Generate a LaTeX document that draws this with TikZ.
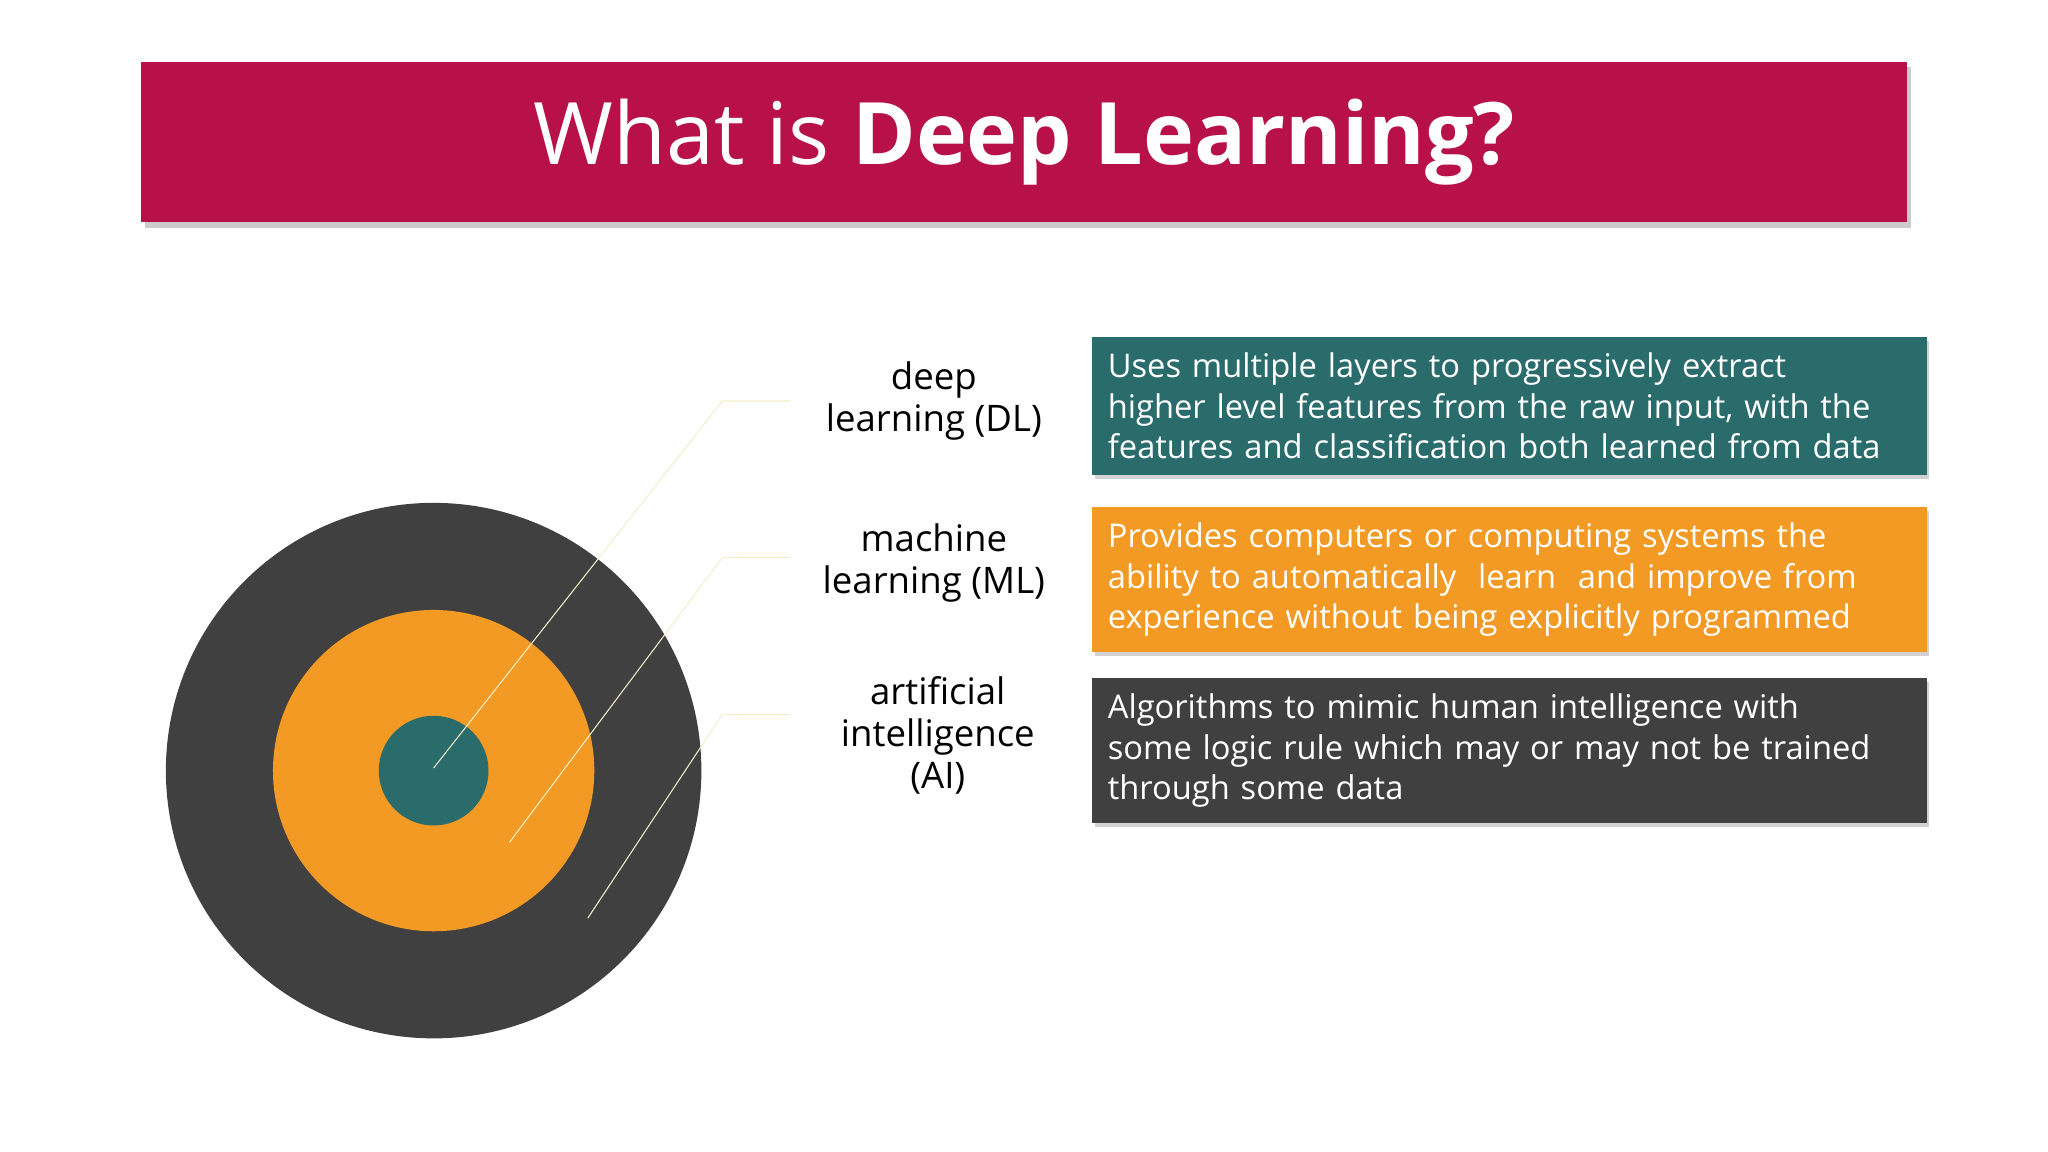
\documentclass[tikz,border=0pt]{standalone}
\usepackage{fontspec}
\setmainfont{Open Sans}
\usetikzlibrary{shadows}
\definecolor{crim}{HTML}{B8114A}
\definecolor{dk}{HTML}{404040}
\definecolor{org}{HTML}{F29A24}
\definecolor{tl}{HTML}{2A6B6B}
\definecolor{lead}{HTML}{F3EFC8}
\tikzset{
 box/.style={minimum width=639pt,minimum height=104pt,inner sep=12pt,text width=615pt,align=left,text=white,anchor=north west,font=\fontsize{25}{31}\selectfont,drop shadow={opacity=0.35,shadow xshift=2pt,shadow yshift=-3pt}},
 lbl/.style={align=center,font=\fontsize{28}{32}\selectfont},
 leader/.style={draw=lead,line width=0.8pt}
}
\begin{document}
\begin{tikzpicture}[x=1pt,y=-1pt]
\useasboundingbox (0,0) rectangle (1568,882);
\fill[white] (0,0) rectangle (1568,882);
\node[fill=crim,minimum width=1352pt,minimum height=123pt,anchor=north west,inner sep=0pt,text=white,font=\fontsize{66}{70}\selectfont,drop shadow={opacity=0.4,shadow xshift=3pt,shadow yshift=-4pt}] (title) at (108,47) {What is \textbf{Deep Learning?}};
\fill[dk] (332,590) circle (205);
\fill[org] (332,590) circle (123);
\fill[tl] (332,590) circle (42);
\coordinate (a1) at (332,588); \coordinate (a2) at (553,307); \coordinate (a3) at (605,307);
\coordinate (b1) at (390,645); \coordinate (b2) at (553,427); \coordinate (b3) at (605,427);
\coordinate (c1) at (450,703); \coordinate (c2) at (553,547); \coordinate (c3) at (605,547);
\draw[leader] (a1)--(a2)--(a3);
\draw[leader] (b1)--(b2)--(b3);
\draw[leader] (c1)--(c2)--(c3);
\node[lbl] (ldl) at (715,307) {deep\\learning (DL)};
\node[lbl] (lml) at (715,431) {machine\\learning (ML)};
\node[lbl] (lai) at (718,563) {artificial\\intelligence\\(AI)};
\node[box,fill=tl] (bdl) at (836,258) {Uses multiple layers to progressively extract\\higher level features from the raw input, with the\\features and classification both learned from data};
\node[box,fill=org] (bml) at (836,388) {Provides computers or computing systems the\\ability to automatically\ \ learn\ \ and improve from\\experience without being explicitly programmed};
\node[box,fill=dk] (bai) at (836,519) {Algorithms to mimic human intelligence with\\some logic rule which may or may not be trained\\through some data};
\end{tikzpicture}
\end{document}
